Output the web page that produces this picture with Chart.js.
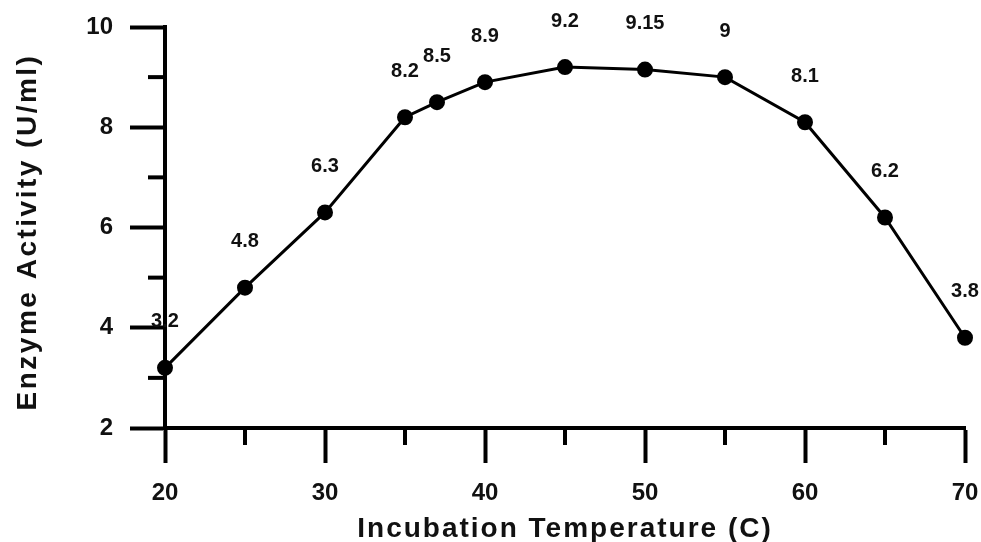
<!DOCTYPE html>
<html>
<head>
<meta charset="utf-8">
<script src="https://cdn.jsdelivr.net/npm/chart.js@4.4.1/dist/chart.umd.min.js"></script>
<style>
  html, body { margin: 0; padding: 0; background: #fff; }
  #wrap { width: 981px; height: 542px; }
</style>
</head>
<body>
<div id="wrap"><canvas id="enzymeChart" width="981" height="542"></canvas></div>
<script>
// temperature (C) and enzyme activity (U/ml)
const temps = [20, 25, 30, 35, 37, 40, 45, 50, 55, 60, 65, 70];
const activity = [3.2, 4.8, 6.3, 8.2, 8.5, 8.9, 9.2, 9.15, 9, 8.1, 6.2, 3.8];
const activityLabels = ['3.2', '4.8', '6.3', '8.2', '8.5', '8.9', '9.2', '9.15', '9', '8.1', '6.2', '3.8'];
const xTitle = 'Incubation Temperature (C)';
const yTitle = 'Enzyme Activity (U/ml)';

const ink = '#111';
const fontFam = '"Liberation Sans", Arial, sans-serif';

// minor ticks + data labels + spaced axis titles
const extras = {
    id: 'extras',
    afterDatasetsDraw(chart) {
        const ctx = chart.ctx;
        const meta = chart.getDatasetMeta(0);
        ctx.save();
        ctx.fillStyle = ink;
        ctx.font = 'bold 20px ' + fontFam;
        ctx.textAlign = 'center';
        ctx.textBaseline = 'middle';
        meta.data.forEach((pt, i) => {
            ctx.fillText(activityLabels[i], pt.x, pt.y - 46);
        });
        ctx.restore();
    },
    afterDraw(chart) {
        const ctx = chart.ctx;
        const x = chart.scales.x, y = chart.scales.y;
        ctx.save();
        ctx.strokeStyle = '#000';
        ctx.lineWidth = 4;
        // minor x ticks
        x.ticks.forEach(t => {
            if (t.value % 10 !== 0) {
                const px = x.getPixelForValue(t.value);
                ctx.beginPath();
                ctx.moveTo(px, x.top);
                ctx.lineTo(px, x.top + 17);
                ctx.stroke();
            }
        });
        // minor y ticks
        y.ticks.forEach(t => {
            if (t.value % 2 !== 0) {
                const py = y.getPixelForValue(t.value);
                ctx.beginPath();
                ctx.moveTo(y.right, py);
                ctx.lineTo(y.right - 17, py);
                ctx.stroke();
            }
        });
        // axis titles
        ctx.fillStyle = ink;
        ctx.font = 'bold 28px ' + fontFam;
        ctx.letterSpacing = '2px';
        ctx.textAlign = 'center';
        ctx.textBaseline = 'alphabetic';
        ctx.fillText(xTitle, (chart.chartArea.left + chart.chartArea.right) / 2, 537);
        ctx.translate(36, 232);
        ctx.rotate(-Math.PI / 2);
        ctx.letterSpacing = '2.5px';
        ctx.fillText(yTitle, 0, 0);
        ctx.restore();
    }
};

new Chart(document.getElementById('enzymeChart'), {
    type: 'scatter',
    data: {
        datasets: [{
            data: temps.map((t, i) => ({ x: t, y: activity[i] })),
            showLine: true,
            borderColor: '#000',
            borderWidth: 3,
            backgroundColor: '#000',
            pointRadius: 6.5,
            pointHoverRadius: 6.5,
            clip: false
        }]
    },
    options: {
        responsive: false,
        animation: false,
        layout: { padding: { top: 27, right: 16, left: 0, bottom: 0 } },
        plugins: { legend: { display: false }, tooltip: { enabled: false } },
        scales: {
            x: {
                type: 'linear',
                min: 20,
                max: 70,
                border: { display: true, color: '#000', width: 4 },
                grid: {
                    drawOnChartArea: false,
                    drawTicks: true,
                    tickLength: 35,
                    tickWidth: 4,
                    tickColor: c => (c.tick && c.tick.value % 10 === 0) ? '#000' : 'rgba(0,0,0,0)'
                },
                ticks: {
                    stepSize: 5,
                    padding: 16,
                    color: ink,
                    maxRotation: 0,
                    font: { family: fontFam, size: 24, weight: 'bold' },
                    callback: v => v % 10 === 0 ? v : ''
                },
                afterFit: s => { s.height = 114; s.paddingLeft = 0; s.paddingRight = 0; }
            },
            y: {
                min: 2,
                max: 10,
                border: { display: true, color: '#000', width: 4 },
                grid: {
                    drawOnChartArea: false,
                    drawTicks: true,
                    tickLength: 35,
                    tickWidth: 4,
                    tickColor: c => (c.tick && c.tick.value % 2 === 0) ? '#000' : 'rgba(0,0,0,0)'
                },
                ticks: {
                    stepSize: 1,
                    padding: 17,
                    color: ink,
                    font: { family: fontFam, size: 24, weight: 'bold' },
                    callback: v => v % 2 === 0 ? v : ''
                },
                afterFit: s => { s.width = 165; s.paddingTop = 0; s.paddingBottom = 0; }
            }
        }
    },
    plugins: [extras]
});
</script>
</body>
</html>
